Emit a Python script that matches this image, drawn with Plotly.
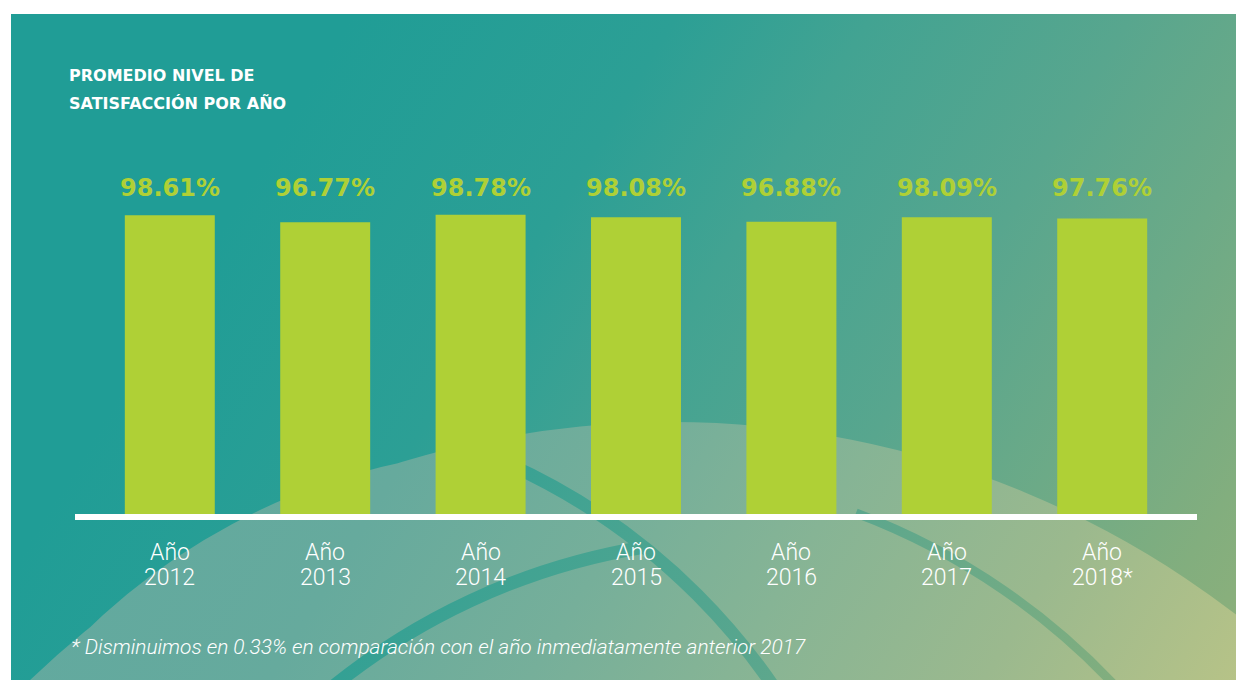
import base64
import plotly.graph_objects as go

# ---- data ----
years = ["2012", "2013", "2014", "2015", "2016", "2017", "2018"]
year_labels = ["2012", "2013", "2014", "2015", "2016", "2017", "2018*"]
satisfaction = [98.61, 96.77, 98.78, 98.08, 96.88, 98.09, 97.76]
title_lines = ["PROMEDIO NIVEL DE", "SATISFACCIÓN POR AÑO"]
prefix = "Año"
footnote = "* Disminuimos en 0.33% en comparación con el año inmediatamente anterior 2017"

W, H = 1244, 680
OFF = 8  # page offset of the figure inside the browser window
# plot area in screen pixels
X0, X1, Y0, Y1 = 75, 1197, 100, 514
ML, MR, MT, MB = X0 - OFF, W - (X1 - OFF), Y0 - OFF, H - (Y1 - OFF)
PW, PH = X1 - X0, Y1 - Y0
BAR = "#AFD036"


def px_x(px):
    return (px - X0) / PW


def px_y(py):
    return (Y1 - py) / PH


# ---- decorative background (svg, screen coordinates) ----
def circ(cx, cy, r):
    return (f"M {cx - r} {cy} a {r} {r} 0 1 0 {2 * r} 0 "
            f"a {r} {r} 0 1 0 {-2 * r} 0 Z ")


svg = f'''<svg xmlns="http://www.w3.org/2000/svg" width="{W}" height="{H}" viewBox="0 0 {W} {H}">
<defs>
<linearGradient id="g0" gradientUnits="userSpaceOnUse" x1="300" y1="100" x2="1244" y2="680">
<stop offset="0" stop-color="#209D96"/>
<stop offset="0.25" stop-color="#2C9F95"/>
<stop offset="0.4" stop-color="#42A392"/>
<stop offset="0.6" stop-color="#58A68E"/>
<stop offset="0.75" stop-color="#6CAA87"/>
<stop offset="0.9" stop-color="#82AE7E"/>
<stop offset="1" stop-color="#8FB07A"/>
</linearGradient>
<linearGradient id="g1" gradientUnits="userSpaceOnUse" x1="300" y1="100" x2="1244" y2="680">
<stop offset="0" stop-color="#61A99F"/>
<stop offset="0.25" stop-color="#66AA9D"/>
<stop offset="0.45" stop-color="#76AF9A"/>
<stop offset="0.6" stop-color="#86B495"/>
<stop offset="0.8" stop-color="#9BB98E"/>
<stop offset="1" stop-color="#B7C387"/>
</linearGradient>
<clipPath id="cp"><rect x="11" y="14" width="1233" height="666"/></clipPath>
</defs>
<rect width="{W}" height="{H}" fill="#ffffff"/>
<g clip-path="url(#cp)">
<rect x="11" y="14" width="1233" height="666" fill="url(#g0)"/>
<path d="{circ(536, 1093, 645)}{circ(671, 1347, 925)}" fill="url(#g1)" fill-rule="nonzero"/>
<circle cx="244" cy="1048" r="641" fill="none" stroke="url(#g0)" stroke-width="13"/>
<path d="M 316.7 700 A 667.5 667.5 0 0 1 645 547" fill="none" stroke="url(#g0)" stroke-width="13"/>
<path d="M 856 513 A 687 687 0 0 1 1128 700" fill="none" stroke="url(#g0)" stroke-width="9"/>
</g>
</svg>'''
bg_uri = "data:image/svg+xml;base64," + base64.b64encode(svg.encode("utf-8")).decode()

fig = go.Figure()
fig.add_trace(go.Bar(
    x=years, y=satisfaction, marker=dict(color=BAR, line=dict(width=0)),
    hoverinfo="skip",
))

ann = []
for i, t in enumerate(title_lines):
    ann.append(dict(text=f"<b>{t}</b>", xref="paper", yref="paper",
                    x=px_x(67), y=px_y(76 + 27 * i), xanchor="left", yanchor="middle",
                    showarrow=False,
                    font=dict(family="DejaVu Sans", size=16, color="white")))
for i, (lab, v) in enumerate(zip(year_labels, satisfaction)):
    ann.append(dict(text=f"<b>{v:.2f}%</b>", xref="x", yref="paper", x=i, y=px_y(188),
                    xanchor="center", yanchor="middle", showarrow=False,
                    font=dict(family="DejaVu Sans", size=24, color=BAR)))
    ann.append(dict(text=prefix, xref="x", yref="paper", x=i, y=px_y(552),
                    xanchor="center", yanchor="middle", showarrow=False,
                    font=dict(family="Roboto", size=23, color="white", weight=300)))
    ann.append(dict(text=lab, xref="x", yref="paper", x=i, y=px_y(577),
                    xanchor="center", yanchor="middle", showarrow=False,
                    font=dict(family="Roboto", size=23, color="white", weight=300)))
ann.append(dict(text=footnote, xref="paper", yref="paper", x=px_x(69), y=px_y(647),
                xanchor="left", yanchor="middle", showarrow=False,
                font=dict(family="Roboto", size=20.9, color="white", weight=300,
                          style="italic")))

fig.update_layout(
    width=W, height=H,
    margin=dict(l=ML, r=MR, t=MT, b=MB, pad=0),
    paper_bgcolor="white", plot_bgcolor="rgba(0,0,0,0)",
    showlegend=False, bargap=0.421,
    xaxis=dict(type="category", range=[-0.61, 6.61], showgrid=False, zeroline=False,
               showticklabels=False, ticks="", showline=True, linecolor="white",
               linewidth=6, fixedrange=True),
    yaxis=dict(range=[20, 20 + PH / 3.8], visible=False, fixedrange=True),
    annotations=ann,
    images=[dict(source=bg_uri, xref="paper", yref="paper",
                 x=px_x(0), y=px_y(0), sizex=W / PW, sizey=H / PH,
                 xanchor="left", yanchor="top", sizing="stretch", layer="below")],
)

fig.write_html("out.html", config=dict(displayModeBar=False))
